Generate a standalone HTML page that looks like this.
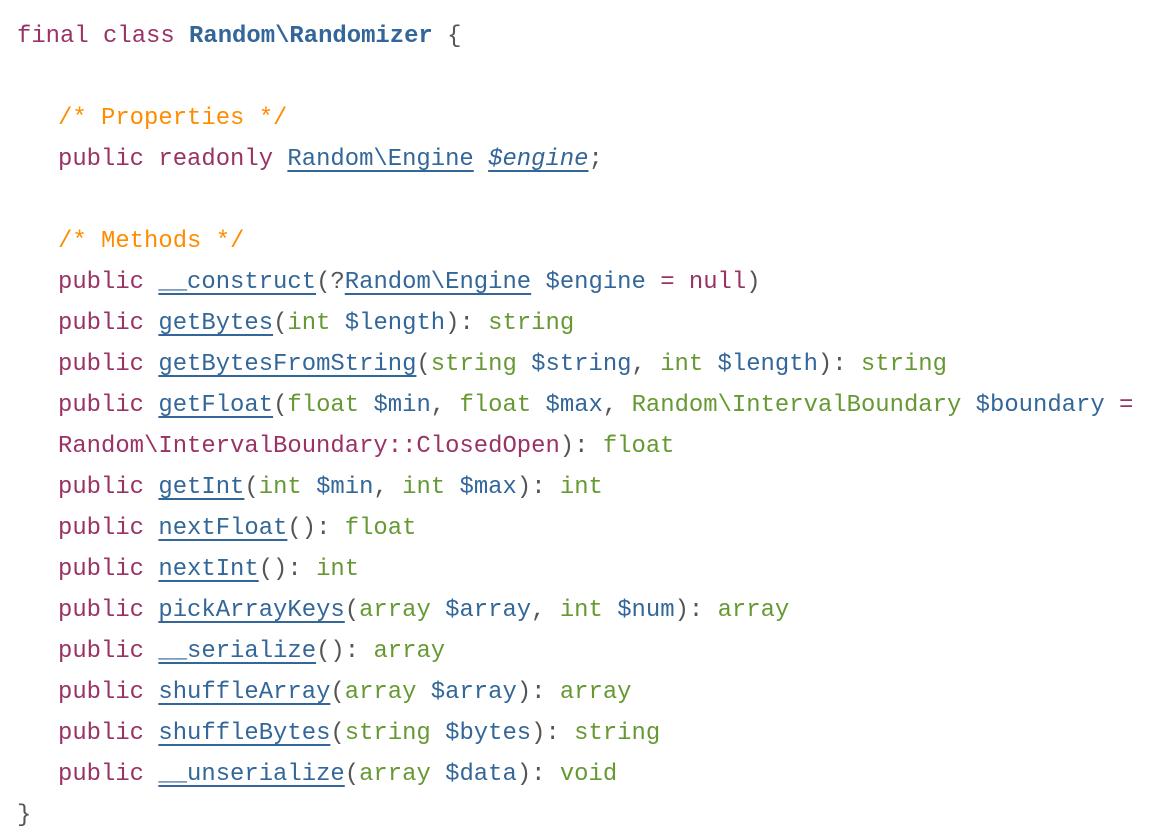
<!DOCTYPE html>
<html><head><meta charset="utf-8"><style>
body{margin:0;background:#fff;width:1165px;height:838px;overflow:hidden}
.c{position:absolute;left:17px;top:16px;font-family:"Liberation Mono",monospace;font-size:23.9px;line-height:41px;color:#555;white-space:pre}
.i{padding-left:41px}
.k{color:#993366}.b{color:#336699}.g{color:#669933}.o{color:#ff8c00}
.u{color:#336699;text-decoration:underline;text-underline-offset:5px;text-decoration-thickness:1.5px}
.bold{font-weight:bold}
</style></head><body><div class="c"><div><span class="k">final class </span><span class="b bold">Random\Randomizer</span> {</div><div> </div><div class="i"><span class="o">/* Properties */</span></div><div class="i"><span class="k">public readonly </span><span class="u">Random\Engine</span> <span class="u"><i>$engine</i></span>;</div><div> </div><div class="i"><span class="o">/* Methods */</span></div><div class="i"><span class="k">public </span><span class="u">__construct</span>(?<span class="u">Random\Engine</span> <span class="b">$engine</span> <span class="k">= null</span>)</div><div class="i"><span class="k">public </span><span class="u">getBytes</span>(<span class="g">int</span> <span class="b">$length</span>): <span class="g">string</span></div><div class="i"><span class="k">public </span><span class="u">getBytesFromString</span>(<span class="g">string</span> <span class="b">$string</span>, <span class="g">int</span> <span class="b">$length</span>): <span class="g">string</span></div><div class="i"><span class="k">public </span><span class="u">getFloat</span>(<span class="g">float</span> <span class="b">$min</span>, <span class="g">float</span> <span class="b">$max</span>, <span class="g">Random\IntervalBoundary</span> <span class="b">$boundary</span> <span class="k">=</span></div><div class="i"><span class="k">Random\IntervalBoundary::ClosedOpen</span>): <span class="g">float</span></div><div class="i"><span class="k">public </span><span class="u">getInt</span>(<span class="g">int</span> <span class="b">$min</span>, <span class="g">int</span> <span class="b">$max</span>): <span class="g">int</span></div><div class="i"><span class="k">public </span><span class="u">nextFloat</span>(): <span class="g">float</span></div><div class="i"><span class="k">public </span><span class="u">nextInt</span>(): <span class="g">int</span></div><div class="i"><span class="k">public </span><span class="u">pickArrayKeys</span>(<span class="g">array</span> <span class="b">$array</span>, <span class="g">int</span> <span class="b">$num</span>): <span class="g">array</span></div><div class="i"><span class="k">public </span><span class="u">__serialize</span>(): <span class="g">array</span></div><div class="i"><span class="k">public </span><span class="u">shuffleArray</span>(<span class="g">array</span> <span class="b">$array</span>): <span class="g">array</span></div><div class="i"><span class="k">public </span><span class="u">shuffleBytes</span>(<span class="g">string</span> <span class="b">$bytes</span>): <span class="g">string</span></div><div class="i"><span class="k">public </span><span class="u">__unserialize</span>(<span class="g">array</span> <span class="b">$data</span>): <span class="g">void</span></div><div>}</div></div></body></html>
